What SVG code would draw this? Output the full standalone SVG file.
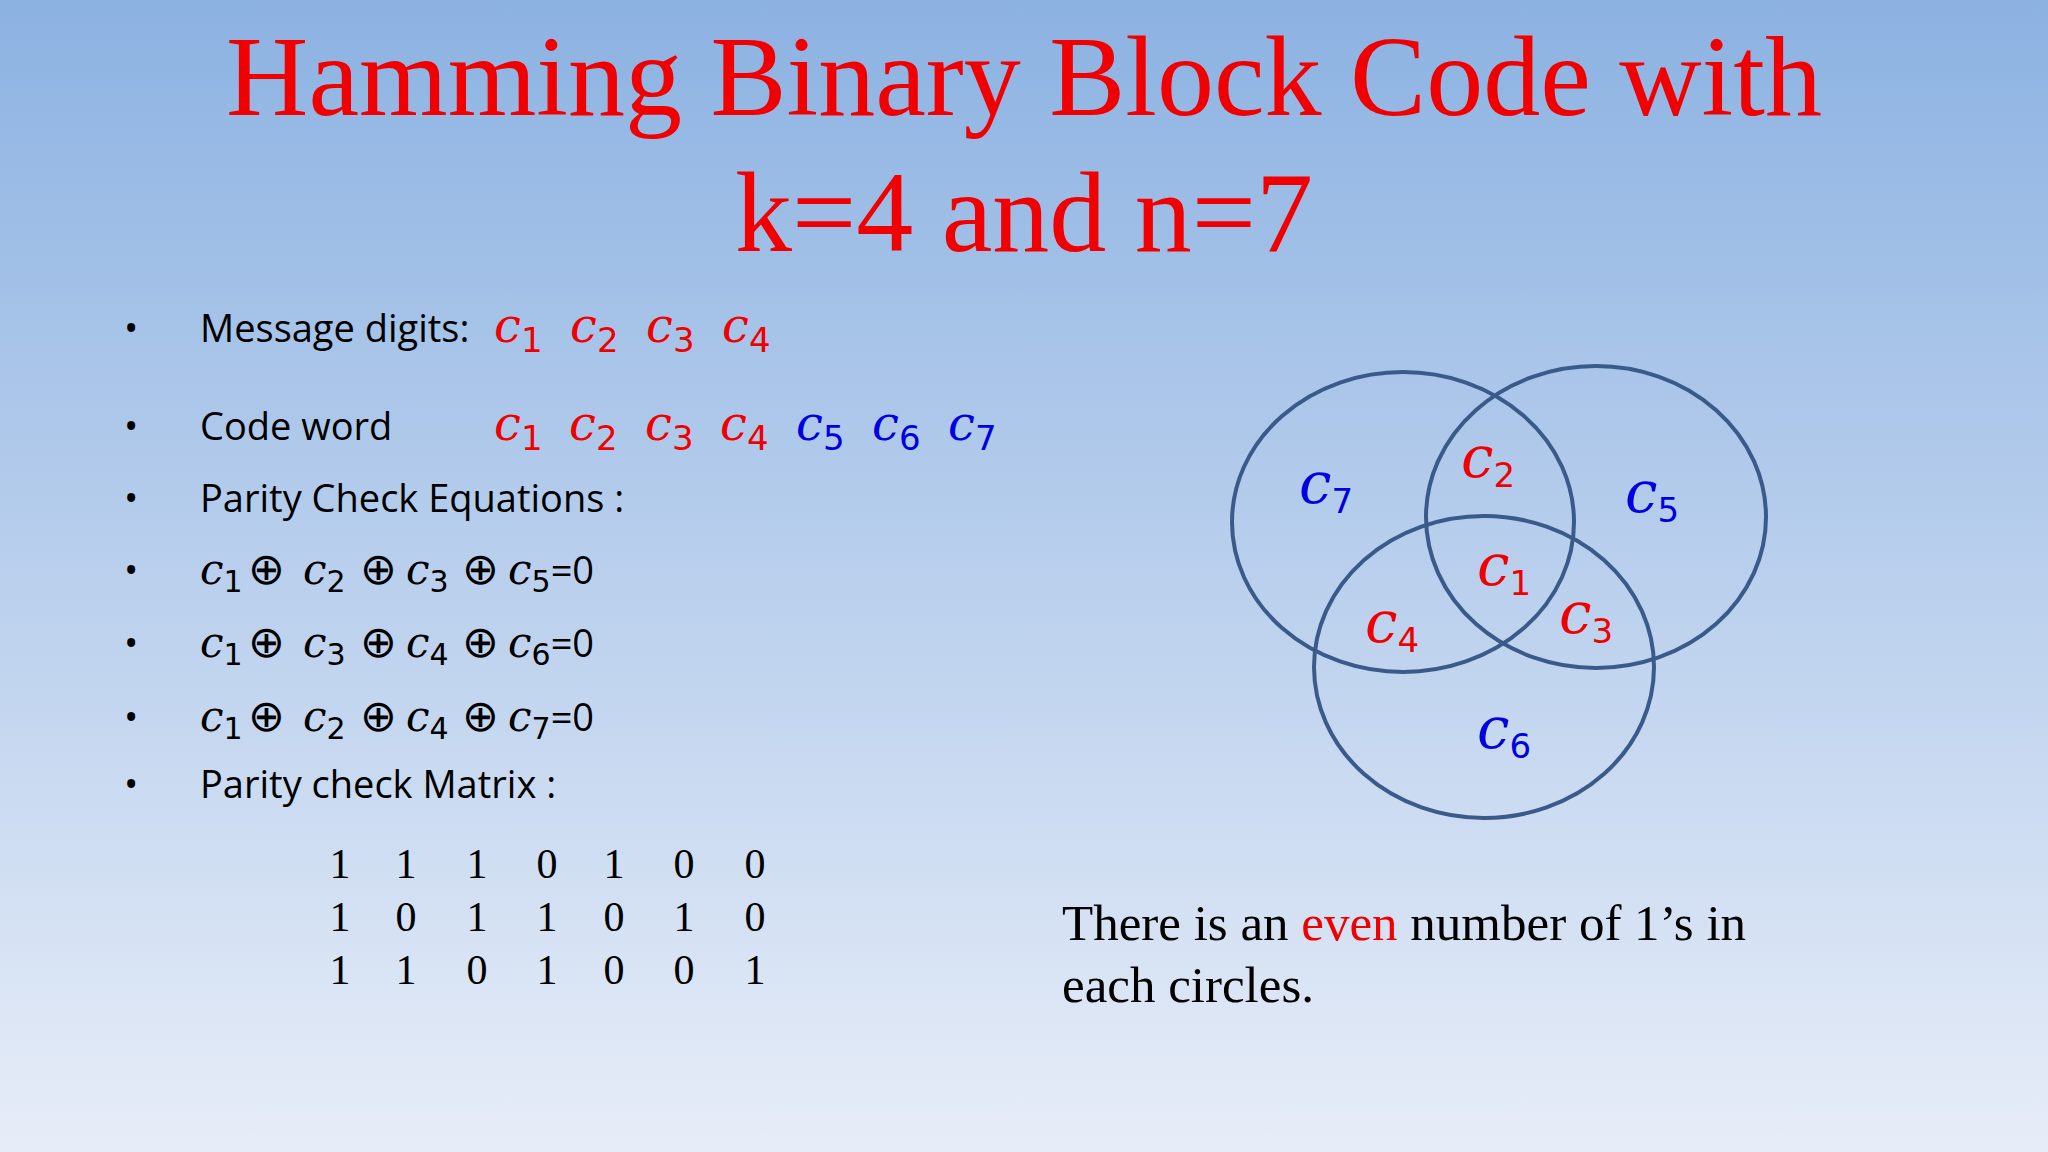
<svg xmlns="http://www.w3.org/2000/svg" width="2048" height="1152" viewBox="0 0 2048 1152">
<defs><linearGradient id="bg" x1="0" y1="0" x2="0" y2="1"><stop offset="0" stop-color="#8cb2e2"/><stop offset="1" stop-color="#e7edf8"/></linearGradient></defs>
<style>
.t{font-family:"Liberation Serif",serif;fill:#f00000;font-size:114px;text-anchor:middle}
.b{font-family:"Open Sans","Liberation Sans",sans-serif;font-size:38px;fill:#000}
.m{font-family:"DejaVu Serif","Liberation Serif",serif;font-style:italic;font-size:48px}
.e{font-family:"DejaVu Serif","Liberation Serif",serif;font-style:italic;font-size:42px}
.s{font-family:"DejaVu Sans",sans-serif;font-style:normal;font-size:34px}
.q{font-family:"DejaVu Sans",sans-serif;font-style:normal;font-size:30px}
.o{font-family:"DejaVu Sans",sans-serif;font-size:44px}
.r{fill:#f00000}.u{fill:#0000e0}
.mx{font-family:"Liberation Serif",serif;font-size:42px;text-anchor:middle}
.c{fill:none;stroke:#3a5a8a;stroke-width:4}
.v{font-family:"DejaVu Serif","Liberation Serif",serif;font-style:italic;font-size:58px;text-anchor:middle}
.n{font-family:"Liberation Serif",serif;font-size:51px}
</style>
<rect width="2048" height="1152" fill="url(#bg)"/>
<g id="title"><text class="t" x="1024" y="115">Hamming Binary Block Code with</text><text class="t" x="1024" y="251">k=4 and n=7</text></g>
<g id="bullets" class="b">
<text x="124" y="342">•</text><text x="200" y="342">Message digits: </text>
<text class="m r" y="342"><tspan x="494">c</tspan><tspan class="s" dy="10">1</tspan><tspan x="570" dy="-10">c</tspan><tspan class="s" dy="10">2</tspan><tspan x="646" dy="-10">c</tspan><tspan class="s" dy="10">3</tspan><tspan x="722" dy="-10">c</tspan><tspan class="s" dy="10">4</tspan></text>
<text x="124" y="440">•</text><text x="200" y="440">Code word</text>
<text class="m" y="440"><tspan class="r" x="494">c</tspan><tspan class="s r" dy="10">1</tspan><tspan class="r" x="569" dy="-10">c</tspan><tspan class="s r" dy="10">2</tspan><tspan class="r" x="645" dy="-10">c</tspan><tspan class="s r" dy="10">3</tspan><tspan class="r" x="720" dy="-10">c</tspan><tspan class="s r" dy="10">4</tspan><tspan class="u" x="796" dy="-10">c</tspan><tspan class="s u" dy="10">5</tspan><tspan class="u" x="872" dy="-10">c</tspan><tspan class="s u" dy="10">6</tspan><tspan class="u" x="948" dy="-10">c</tspan><tspan class="s u" dy="10">7</tspan></text>
<text x="124" y="512">•</text><text x="200" y="512">Parity Check Equations :</text>
<text x="124" y="584">•</text><text y="584"><tspan class="e" x="200">c</tspan><tspan class="q" dy="8">1</tspan><tspan class="o" x="248" dy="-8">⊕</tspan><tspan class="e" x="303">c</tspan><tspan class="q" dy="8">2</tspan><tspan class="o" x="360" dy="-8">⊕</tspan><tspan class="e" x="406">c</tspan><tspan class="q" dy="8">3</tspan><tspan class="o" x="462" dy="-8">⊕</tspan><tspan class="e" x="508">c</tspan><tspan class="q" dy="8">5</tspan><tspan dy="-8">=0</tspan></text>
<text x="124" y="657">•</text><text y="657"><tspan class="e" x="200">c</tspan><tspan class="q" dy="8">1</tspan><tspan class="o" x="248" dy="-8">⊕</tspan><tspan class="e" x="303">c</tspan><tspan class="q" dy="8">3</tspan><tspan class="o" x="360" dy="-8">⊕</tspan><tspan class="e" x="406">c</tspan><tspan class="q" dy="8">4</tspan><tspan class="o" x="462" dy="-8">⊕</tspan><tspan class="e" x="508">c</tspan><tspan class="q" dy="8">6</tspan><tspan dy="-8">=0</tspan></text>
<text x="124" y="731">•</text><text y="731"><tspan class="e" x="200">c</tspan><tspan class="q" dy="8">1</tspan><tspan class="o" x="248" dy="-8">⊕</tspan><tspan class="e" x="303">c</tspan><tspan class="q" dy="8">2</tspan><tspan class="o" x="360" dy="-8">⊕</tspan><tspan class="e" x="406">c</tspan><tspan class="q" dy="8">4</tspan><tspan class="o" x="462" dy="-8">⊕</tspan><tspan class="e" x="508">c</tspan><tspan class="q" dy="8">7</tspan><tspan dy="-8">=0</tspan></text>
<text x="124" y="798">•</text><text x="200" y="798">Parity check Matrix :</text>
</g>
<g id="matrix" class="mx">
<text y="878"><tspan x="340">1</tspan><tspan x="406">1</tspan><tspan x="477">1</tspan><tspan x="547">0</tspan><tspan x="614">1</tspan><tspan x="684">0</tspan><tspan x="755">0</tspan></text>
<text y="931"><tspan x="340">1</tspan><tspan x="406">0</tspan><tspan x="477">1</tspan><tspan x="547">1</tspan><tspan x="614">0</tspan><tspan x="684">1</tspan><tspan x="755">0</tspan></text>
<text y="984"><tspan x="340">1</tspan><tspan x="406">1</tspan><tspan x="477">0</tspan><tspan x="547">1</tspan><tspan x="614">0</tspan><tspan x="684">0</tspan><tspan x="755">1</tspan></text>
</g>
<g id="venn">
<ellipse class="c" cx="1403" cy="522" rx="171" ry="150"/>
<ellipse class="c" cx="1596" cy="517" rx="170" ry="151"/>
<ellipse class="c" cx="1484" cy="667" rx="170" ry="151"/>
<text class="v u" x="1326" y="503">c<tspan class="s" dy="10">7</tspan></text>
<text class="v r" x="1488" y="477">c<tspan class="s" dy="10">2</tspan></text>
<text class="v u" x="1652" y="512">c<tspan class="s" dy="10">5</tspan></text>
<text class="v r" x="1504" y="585">c<tspan class="s" dy="10">1</tspan></text>
<text class="v r" x="1392" y="642">c<tspan class="s" dy="10">4</tspan></text>
<text class="v r" x="1586" y="633">c<tspan class="s" dy="10">3</tspan></text>
<text class="v u" x="1504" y="748">c<tspan class="s" dy="10">6</tspan></text>
</g>
<g id="note" class="n"><text x="1062" y="940">There is an <tspan class="r">even</tspan> number of 1’s in</text><text x="1062" y="1002">each circles.</text></g>
</svg>
